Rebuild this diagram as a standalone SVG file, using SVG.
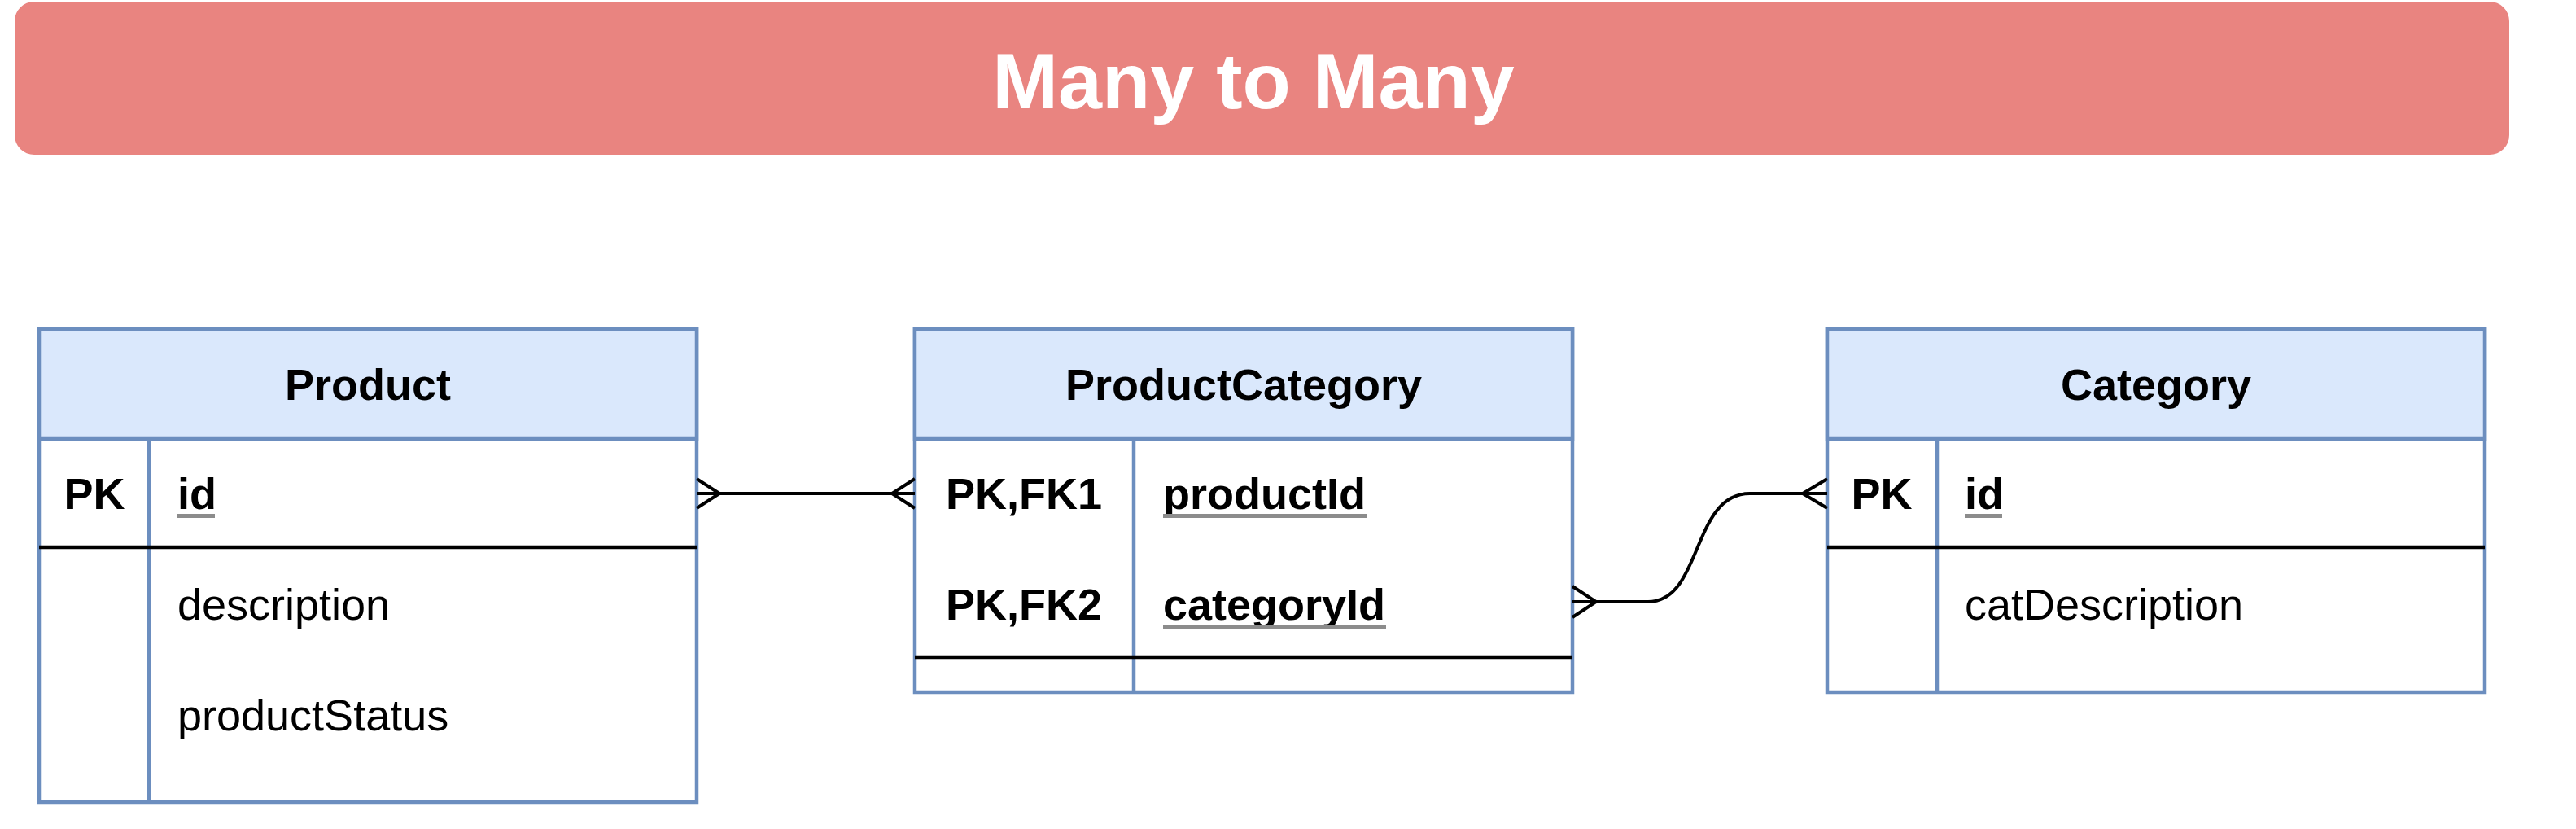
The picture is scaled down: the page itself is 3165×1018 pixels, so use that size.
<svg xmlns="http://www.w3.org/2000/svg" width="3165" height="1018" viewBox="0 0 3165 1018">
  <style>
    .frame { fill: #ffffff; stroke: #6c8ebf; stroke-width: 4.5; }
    .head { fill: #dae8fc; stroke: #6c8ebf; stroke-width: 4.5; }
    .col { stroke: #6c8ebf; stroke-width: 4.5; fill: none; }
    .sep { stroke: #000000; stroke-width: 4.5; fill: none; }
    .title { font-family: "Liberation Sans", Arial, sans-serif; font-weight: bold; font-size: 54px; fill: #000; }
    .key { font-family: "Liberation Sans", Arial, sans-serif; font-weight: bold; font-size: 54px; fill: #000; }
    .pkf { font-family: "Liberation Sans", Arial, sans-serif; font-weight: bold; font-size: 54px; fill: #000; }
    .ul { fill: #8c8c8c; }
    .fld { font-family: "Liberation Sans", Arial, sans-serif; font-size: 54px; fill: #000; }
    .link { stroke: #000000; stroke-width: 4; fill: none; }
  </style>

  <g id="banner">
    <rect x="18" y="2" width="3065" height="188" rx="24" ry="24" fill="#e98480"/>
    <text x="1540" y="133" text-anchor="middle" font-family="'Liberation Sans', Arial, sans-serif" font-weight="bold" font-size="97" fill="#ffffff">Many to Many</text>
  </g>

  <g id="product">
    <rect class="frame" x="48" y="404" width="808" height="581"/>
    <rect class="head" x="48" y="404" width="808" height="135"/>
    <line class="col" x1="183" y1="539" x2="183" y2="985"/>
    <line class="sep" x1="48" y1="672" x2="856" y2="672"/>
    <text class="title" x="452" y="491" text-anchor="middle">Product</text>
    <text class="key" x="116" y="625" text-anchor="middle">PK</text>
    <text class="pkf" x="218" y="625">id</text>
    <rect class="ul" x="218" y="631" width="46" height="5"/>
    <text class="fld" x="218" y="761">description</text>
    <text class="fld" x="218" y="897">productStatus</text>
  </g>

  <g id="productcategory">
    <rect class="frame" x="1124" y="404" width="808" height="446"/>
    <rect class="head" x="1124" y="404" width="808" height="135"/>
    <line class="col" x1="1393" y1="539" x2="1393" y2="850"/>
    <line class="sep" x1="1124" y1="807" x2="1932" y2="807"/>
    <text class="title" x="1528" y="491" text-anchor="middle">ProductCategory</text>
    <text class="key" x="1258" y="625" text-anchor="middle">PK,FK1</text>
    <text class="pkf" x="1429" y="625">productId</text>
    <rect class="ul" x="1429" y="631" width="250" height="5"/>
    <text class="key" x="1258" y="761" text-anchor="middle">PK,FK2</text>
    <text class="pkf" x="1429" y="761">categoryId</text>
    <rect class="ul" x="1429" y="767" width="274" height="5"/>
  </g>

  <g id="category">
    <rect class="frame" x="2245" y="404" width="808" height="446"/>
    <rect class="head" x="2245" y="404" width="808" height="135"/>
    <line class="col" x1="2380" y1="539" x2="2380" y2="850"/>
    <line class="sep" x1="2245" y1="672" x2="3053" y2="672"/>
    <text class="title" x="2649" y="491" text-anchor="middle">Category</text>
    <text class="key" x="2312" y="625" text-anchor="middle">PK</text>
    <text class="pkf" x="2414" y="625">id</text>
    <rect class="ul" x="2414" y="631" width="46" height="5"/>
    <text class="fld" x="2414" y="761">catDescription</text>
  </g>

  <g id="connectors">
    <!-- Product.id to ProductCategory.productId -->
    <path class="link" d="M856,606 L1124,606"/>
    <path class="link" d="M856,588 L884,606 L856,624"/>
    <path class="link" d="M1124,588 L1096,606 L1124,624"/>
    <!-- ProductCategory.categoryId to Category.id -->
    <path class="link" d="M1932,739 L2025,739 C2092,739 2078,606 2150,606 L2245,606"/>
    <path class="link" d="M1932,720 L1961,739 L1932,758"/>
    <path class="link" d="M2245,588 L2215,606 L2245,624"/>
  </g>
</svg>
